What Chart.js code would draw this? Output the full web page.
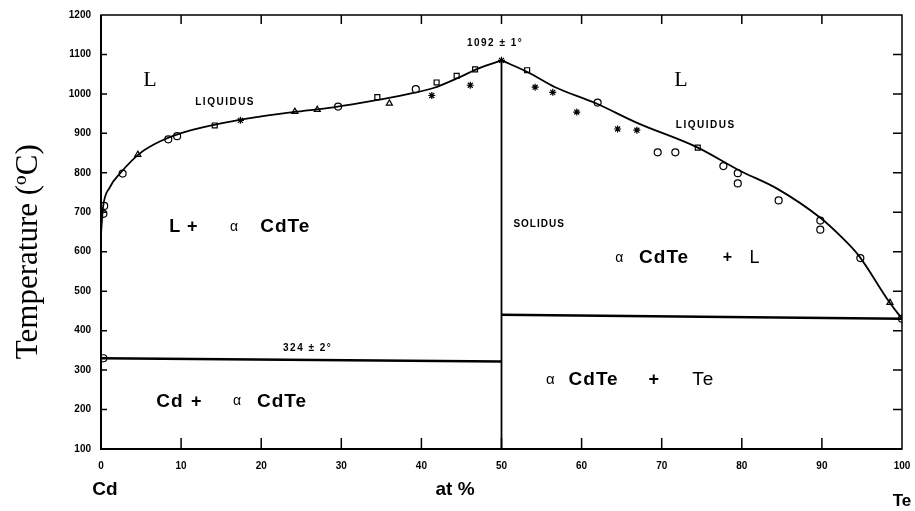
<!DOCTYPE html>
<html lang="en">
<head>
<meta charset="UTF-8">
<title>Cd-Te phase diagram</title>
<style>
  body { margin: 0; background: #fff; }
  #wrap { width: 915px; height: 511px; position: relative; }
</style>
</head>
<body>
<div id="wrap"><canvas id="phaseChart"></canvas></div>

<script src="https://cdn.jsdelivr.net/npm/chart.js"></script>
<script>
// axis ticks
const xTicks = [0, 10, 20, 30, 40, 50, 60, 70, 80, 90, 100];
const yTicks = [100, 200, 300, 400, 500, 600, 700, 800, 900, 1000, 1100, 1200];
const yTitle = 'Temperature (ºC)';

// liquidus, Cd side (at % Te, deg C)
const liqCdX = [0, 0.25, 1.1, 2.4, 4.9, 7.4, 9.9, 14, 19, 24, 29, 34.4, 38, 41.5, 44.5, 47.3, 50];
const liqCdY = [646, 712, 763, 799, 850, 880, 900, 921, 940, 954, 966, 984, 998, 1015, 1040, 1066, 1085];

// liquidus, Te side
const liqTeX = [50, 53.3, 56.7, 61.7, 67, 74.5, 79.7, 84.4, 89.8, 92.3, 94.6, 98.3, 100];
const liqTeY = [1085, 1055, 1017, 977, 926, 864, 806, 760, 686, 640, 590, 476, 430];

// eutectic lines and the CdTe line
const eutCdX = [0, 50];
const eutCdY = [330, 322];
const eutTeX = [50, 100];
const eutTeY = [440, 430];
const cdteX = [50, 50];
const cdteY = [100, 1085];

// measured points
const circX = [0.4, 0.3, 2.7, 8.4, 9.5, 29.6, 39.3, 62, 69.5, 71.7, 77.7, 79.5, 79.5, 84.6, 89.8, 89.8, 94.8, 100, 0.3];
const circY = [716, 696, 798, 885, 893, 968, 1012, 978, 852, 852, 817, 799, 773, 730, 679, 656, 584, 430, 330];
const sqX = [14.2, 34.5, 41.9, 44.4, 46.7, 53.2, 74.5];
const sqY = [920, 992, 1029, 1046, 1062, 1060, 864];
const triX = [4.6, 24.2, 27, 36, 98.5];
const triY = [846, 955, 960, 976, 471];
const starX = [17.4, 41.3, 46.1, 54.2, 56.4, 59.4, 64.5, 66.9, 50];
const starY = [933, 996, 1022, 1017, 1004, 954, 911, 908, 1085];

// text on the diagram: [text, x, y, size, weight, family, spacing]
const notes = [
  ['L', 6.1, 1035, 22, 'normal', 'Liberation Serif', 0],
  ['L', 72.4, 1035, 22, 'normal', 'Liberation Serif', 0],
  ['LIQUIDUS', 15.5, 978, 10, 'bold', 'Liberation Sans', 1.5],
  ['LIQUIDUS', 75.5, 920, 10, 'bold', 'Liberation Sans', 1.5],
  ['1092 ± 1°', 49.2, 1129, 10, 'bold', 'Liberation Sans', 1.5],
  ['SOLIDUS', 54.7, 670, 10, 'bold', 'Liberation Sans', 1],
  ['324 ± 2°', 25.8, 355, 10, 'bold', 'Liberation Sans', 1.5],
  ['L', 9.2, 663, 18, 'bold', 'Liberation Sans', 0],
  ['+', 11.4, 663, 18, 'bold', 'Liberation Sans', 0],
  ['α', 16.6, 663, 14, 'normal', 'Liberation Sans', 0],
  ['CdTe', 23.0, 663, 19, 'bold', 'Liberation Sans', 1],
  ['α', 64.7, 584, 14, 'normal', 'Liberation Sans', 0],
  ['CdTe', 70.3, 584, 19, 'bold', 'Liberation Sans', 1],
  ['+', 78.2, 584, 16, 'bold', 'Liberation Sans', 0],
  ['L', 81.6, 584, 18, 'normal', 'Liberation Sans', 0],
  ['Cd', 8.6, 220, 19, 'bold', 'Liberation Sans', 1],
  ['+', 11.9, 218, 18, 'bold', 'Liberation Sans', 0],
  ['α', 17.0, 222, 14, 'normal', 'Liberation Sans', 0],
  ['CdTe', 22.6, 220, 19, 'bold', 'Liberation Sans', 1],
  ['α', 56.1, 276, 15, 'normal', 'Liberation Sans', 0],
  ['CdTe', 61.5, 276, 19, 'bold', 'Liberation Sans', 1],
  ['+', 69.0, 276, 18, 'bold', 'Liberation Sans', 0],
  ['Te', 75.2, 276, 19, 'normal', 'Liberation Sans', 1],
  ['Cd', 0.5, -4, 19, 'bold', 'Liberation Sans', 0],
  ['at %', 44.2, -4, 19, 'bold', 'Liberation Sans', 0],
  ['Te', 100, -32, 17, 'bold', 'Liberation Sans', 0]
];

const pts = (xs, ys) => xs.map((x, i) => ({ x: x, y: ys[i] }));

function lineSet(xs, ys, width, smooth) {
  return {
    data: pts(xs, ys),
    showLine: true,
    borderColor: '#000',
    borderWidth: width,
    pointRadius: 0,
    cubicInterpolationMode: smooth ? 'monotone' : 'default',
    tension: 0,
    fill: false
  };
}

function markSet(xs, ys, style, r, filled) {
  return {
    data: pts(xs, ys),
    showLine: false,
    pointStyle: style,
    pointRadius: r,
    borderColor: '#000',
    borderWidth: 1.2,
    backgroundColor: filled ? '#000' : '#fff'
  };
}

// frame, inward ticks, the axis title and the region text
const framePlugin = {
  id: 'frame',
  afterDraw(chart) {
    const ctx = chart.ctx;
    const a = chart.chartArea;
    const xs = chart.scales.x;
    const ys = chart.scales.y;
    ctx.save();
    ctx.strokeStyle = '#000';
    ctx.lineWidth = 1.5;
    ctx.strokeRect(a.left, a.top, a.right - a.left, a.bottom - a.top);
    ctx.lineWidth = 2;
    ctx.beginPath();
    ctx.moveTo(a.left, a.top);
    ctx.lineTo(a.left, a.bottom);
    ctx.lineTo(a.right, a.bottom);
    ctx.stroke();

    ctx.lineWidth = 1.5;
    ctx.beginPath();
    xTicks.slice(1, -1).forEach(v => {
      const px = xs.getPixelForValue(v);
      ctx.moveTo(px, a.bottom);
      ctx.lineTo(px, a.bottom - 11);
      ctx.moveTo(px, a.top);
      ctx.lineTo(px, a.top + 9);
    });
    yTicks.slice(1, -1).forEach(v => {
      const py = ys.getPixelForValue(v);
      ctx.moveTo(a.left + 1, py);
      ctx.lineTo(a.left + 6, py);
      ctx.moveTo(a.right, py);
      ctx.lineTo(a.right - 9, py);
    });
    ctx.stroke();

    ctx.fillStyle = '#000';

    // y title, rotated, centred a little below the middle like the scan
    ctx.save();
    ctx.translate(37, ys.getPixelForValue(600));
    ctx.rotate(-Math.PI / 2);
    ctx.font = '31px "Liberation Serif"';
    ctx.textAlign = 'center';
    ctx.textBaseline = 'alphabetic';
    ctx.fillText(yTitle, 0, 0);
    ctx.restore();

    ctx.textAlign = 'center';
    ctx.textBaseline = 'middle';
    notes.forEach(n => {
      ctx.font = n[4] + ' ' + n[3] + 'px "' + n[5] + '"';
      ctx.letterSpacing = n[6] + 'px';
      ctx.fillText(n[0], xs.getPixelForValue(n[1]), ys.getPixelForValue(n[2]));
    });
    ctx.restore();
  }
};

new Chart(document.getElementById('phaseChart'), {
  type: 'scatter',
  data: {
    datasets: [
      lineSet(liqCdX, liqCdY, 1.8, true),
      lineSet(liqTeX, liqTeY, 1.8, true),
      lineSet(eutCdX, eutCdY, 2.5, false),
      lineSet(eutTeX, eutTeY, 2.5, false),
      lineSet(cdteX, cdteY, 1.8, false),
      markSet(circX, circY, 'circle', 3.5, false),
      markSet(sqX, sqY, 'rect', 3.5, false),
      markSet(triX, triY, 'triangle', 3.5, false),
      markSet(starX, starY, 'star', 3.5, true)
    ]
  },
  options: {
    responsive: true,
    maintainAspectRatio: false,
    animation: false,
    layout: { padding: { top: 15, right: 13, left: 0, bottom: 0 } },
    plugins: {
      legend: { display: false },
      tooltip: { enabled: false }
    },
    scales: {
      x: {
        type: 'linear',
        min: 0,
        max: 100,
        afterBuildTicks: s => { s.ticks = xTicks.map(v => ({ value: v })); },
        afterFit: s => { s.height = 62; s.paddingLeft = 0; s.paddingRight = 0; },
        grid: { display: false, drawTicks: false },
        border: { display: false },
        ticks: {
          color: '#000',
          padding: 11,
          maxRotation: 0,
          callback: v => String(v),
          font: { family: 'Liberation Sans', size: 10, weight: 'bold' }
        }
      },
      y: {
        type: 'linear',
        min: 100,
        max: 1200,
        afterBuildTicks: s => { s.ticks = yTicks.map(v => ({ value: v })); },
        afterFit: s => { s.width = 101; s.paddingTop = 0; s.paddingBottom = 0; },
        grid: { display: false, drawTicks: false },
        border: { display: false },
        ticks: {
          color: '#000',
          padding: 10,
          callback: v => String(v),
          font: { family: 'Liberation Sans', size: 10, weight: 'bold' }
        }
      }
    }
  },
  plugins: [framePlugin]
});
</script>
</body>
</html>
